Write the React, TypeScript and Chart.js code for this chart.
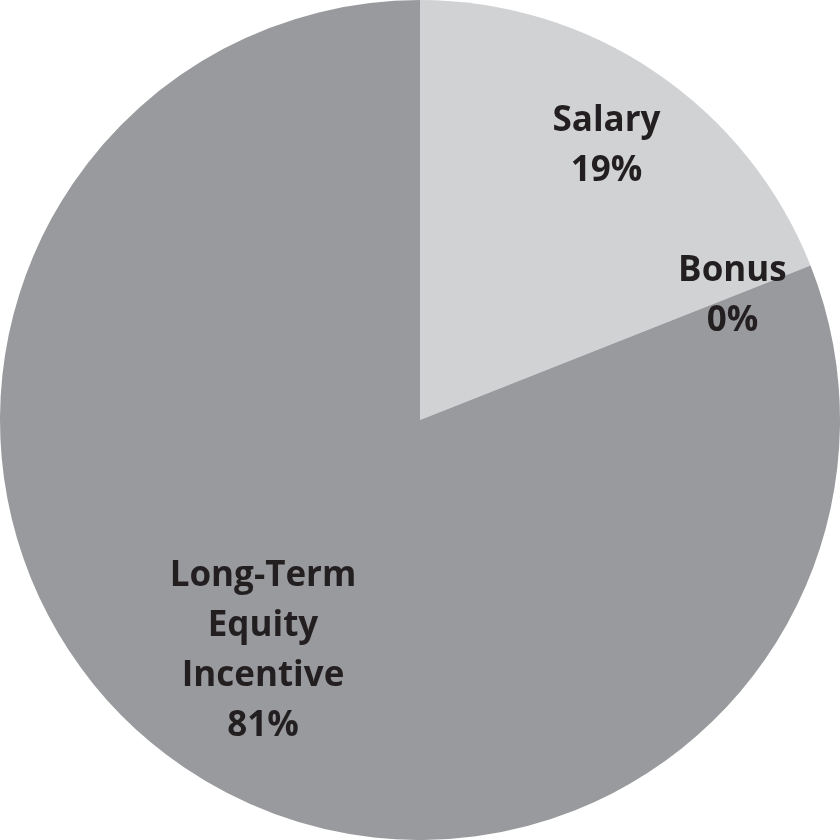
import React, { useEffect, useRef } from "react";
import { Chart, registerables } from "chart.js";

Chart.register(...registerables);

const categories = ["Salary", "Bonus", "Long-Term Equity Incentive"];
const labelLines = [["Salary", "19%"], ["Bonus", "0%"], ["Long-Term", "Equity", "Incentive", "81%"]];
const values = [19, 0, 81];
const colors = ["#d1d2d4", "#d1d2d4", "#999a9d"];
const labelRadius = [0.79, 0.8, 0.665];

const labelPlugin = {
  id: "sliceLabels",
  afterDatasetsDraw(chart: any) {
    const { ctx } = chart;
    const meta = chart.getDatasetMeta(0);
    ctx.save();
    ctx.font = "bold 35px 'Open Sans', Lato, sans-serif";
    ctx.fillStyle = "#231f20";
    ctx.textAlign = "center";
    ctx.textBaseline = "middle";
    const lineH = 50;
    meta.data.forEach((arc: any, i: number) => {
      const { x, y, startAngle, endAngle, outerRadius } = arc.getProps(
        ["x", "y", "startAngle", "endAngle", "outerRadius"],
        true
      );
      const mid = (startAngle + endAngle) / 2;
      const r = outerRadius * labelRadius[i];
      const cx = x + Math.cos(mid) * r;
      const cy = y + Math.sin(mid) * r;
      const lines = labelLines[i];
      const top = cy - ((lines.length - 1) * lineH) / 2;
      lines.forEach((t, j) => ctx.fillText(t, cx, top + j * lineH));
    });
    ctx.restore();
  },
};

export default function App() {
  const ref = useRef<HTMLCanvasElement>(null);
  useEffect(() => {
    const chart = new Chart(ref.current!, {
      type: "pie",
      data: {
        labels: categories,
        datasets: [
          {
            data: values,
            backgroundColor: colors,
            borderWidth: 0,
          },
        ],
      },
      options: {
        animation: false,
        responsive: false,
        layout: { padding: 0 },
        plugins: {
          legend: { display: false },
          tooltip: { enabled: false },
        },
      },
      plugins: [labelPlugin],
    });
    return () => chart.destroy();
  }, []);
  return (
    <div style={{ position: "fixed", left: 0, top: 0, width: 840, height: 840, background: "#fff" }}>
      <canvas ref={ref} width={840} height={840} style={{ display: "block", width: 840, height: 840 }} />
    </div>
  );
}
